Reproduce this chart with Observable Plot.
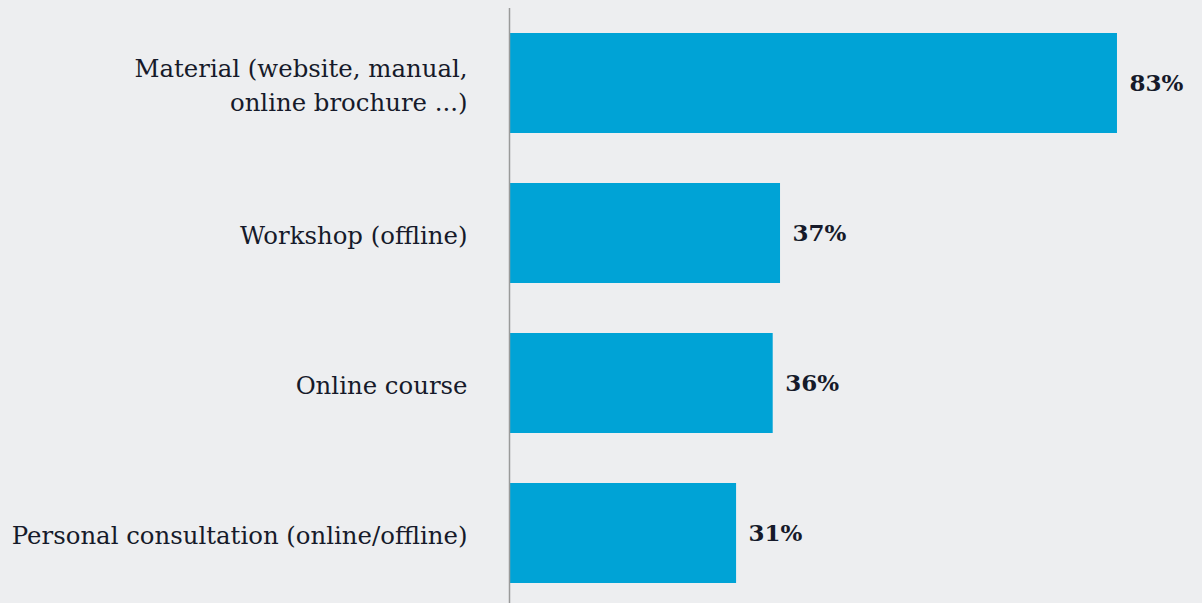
<!DOCTYPE html>
<html>
<head>
<meta charset="utf-8">
<script src="https://cdn.jsdelivr.net/npm/d3@7"></script>
<script src="https://cdn.jsdelivr.net/npm/@observablehq/plot@0.6"></script>
<style>
  html, body { margin: 0; padding: 0; background: #edeef0; }
  #chart svg { display: block; }
</style>
</head>
<body>
<div id="chart"></div>
<script>
const categories = [
  "Material (website, manual,\nonline brochure ...)",
  "Workshop (offline)",
  "Online course",
  "Personal consultation (online/offline)"
];
const values = [83, 37, 36, 31];
const valueLabels = ["83%", "37%", "36%", "31%"];

const data = categories.map((c, i) => ({category: c, value: values[i], label: valueLabels[i]}));

const chart = Plot.plot({
  width: 1202,
  height: 603,
  marginLeft: 509,
  marginRight: 0,
  marginTop: 8,
  marginBottom: 0,
  style: {background: "#edeef0", fontFamily: "'DejaVu Serif', serif", color: "#161a2a"},
  x: {domain: [0, 100], range: [509, 1241.5], axis: null},
  y: {domain: categories, range: [8, 608], paddingInner: 1/3, paddingOuter: 1/6, axis: null},
  marks: [
    Plot.barX(data, {y: "category", x: "value", fill: "#00a3d6"}),
    Plot.ruleX([0], {stroke: "#9a9a9a", strokeWidth: 1.5}),
    Plot.text(data, {
      y: "category", x: 0, text: "category", textAnchor: "end", dx: -42,
      fontSize: 24.4, lineHeight: 1.39, fill: "#161a2a"
    }),
    Plot.text(data, {
      y: "category", x: "value", text: "label", textAnchor: "start", dx: 12,
      fontSize: 23, fontWeight: "bold", fill: "#161a2a"
    })
  ]
});
document.getElementById("chart").append(chart);
</script>
</body>
</html>
